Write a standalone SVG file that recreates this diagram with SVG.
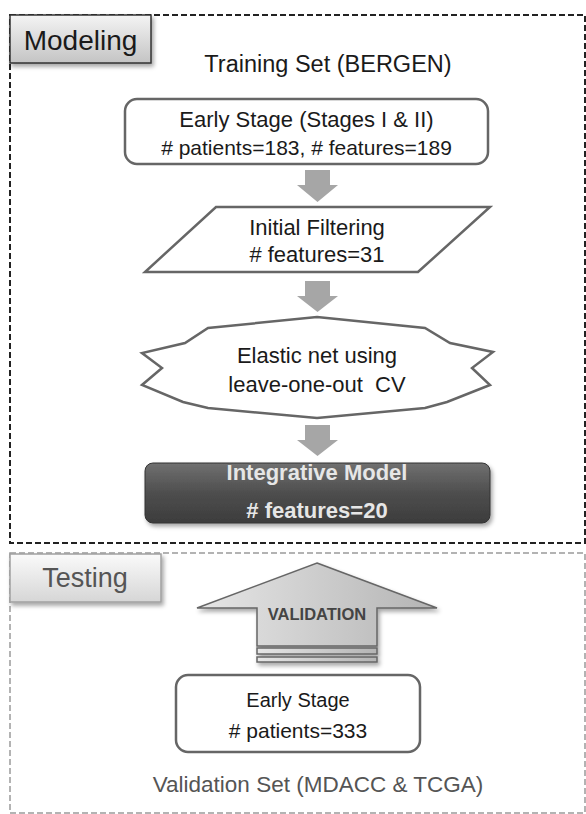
<svg xmlns="http://www.w3.org/2000/svg" width="586" height="814" viewBox="0 0 586 814">
<defs>
<style>
.t{font-family:"Liberation Sans",Arial,sans-serif;fill:#1a1a1a;text-anchor:middle}
.g{fill:#555}
.node{fill:#fff;stroke:#666;stroke-width:2.5}
.arr{fill:#a6a6a6}
</style>
<linearGradient id="lab1" x1="0" y1="0" x2="0" y2="1"><stop offset="0" stop-color="#f4f4f4"/><stop offset="1" stop-color="#c4c4c4"/></linearGradient>
<linearGradient id="lab2" x1="0" y1="0" x2="0" y2="1"><stop offset="0" stop-color="#fafafa"/><stop offset="1" stop-color="#d6d6d6"/></linearGradient>
<linearGradient id="dark" x1="0" y1="0" x2="0" y2="1"><stop offset="0" stop-color="#707070"/><stop offset="0.5" stop-color="#4e4e4e"/><stop offset="1" stop-color="#3c3c3c"/></linearGradient>
<linearGradient id="va" x1="0" y1="0" x2="1" y2="0"><stop offset="0" stop-color="#e6e6e6"/><stop offset="1" stop-color="#b4b4b4"/></linearGradient>
<filter id="sh" x="-10%" y="-10%" width="130%" height="140%"><feDropShadow dx="2" dy="3" stdDeviation="2" flood-color="#000" flood-opacity="0.35"/></filter>
</defs>
<rect width="586" height="814" fill="#fff"/>

<g id="modeling-frame">
<rect x="10" y="15" width="575" height="528" fill="none" stroke="#222" stroke-width="2" stroke-dasharray="6 3"/>
</g>
<g id="testing-frame">
<rect x="10" y="553" width="575" height="260" fill="none" stroke="#9a9a9a" stroke-width="1.5" stroke-dasharray="6 3"/>
</g>

<g id="modeling-label">
<rect x="10" y="15" width="141" height="48" fill="url(#lab1)" stroke="#333" stroke-width="1.5" filter="url(#sh)"/>
<text class="t" x="80.5" y="50" font-size="28">Modeling</text>
</g>
<g id="testing-label">
<rect x="10" y="554" width="151" height="48" fill="url(#lab2)" stroke="#a0a0a0" stroke-width="1.5" filter="url(#sh)"/>
<text class="t g" x="85" y="587" font-size="27">Testing</text>
</g>

<g id="training-title">
<text class="t" x="328" y="72" font-size="23.5">Training Set (BERGEN)</text>
</g>

<g id="connectors">
<polygon class="arr" points="305,170 330,170 330,185 338,185 317.5,202 297,185 305,185"/>
<polygon class="arr" points="305,281 330,281 330,296 338,296 317.5,312 297,296 305,296"/>
<polygon class="arr" points="305,425 330,425 330,440 338,440 317.5,456 297,440 305,440"/>
</g>

<g id="early-stage-train">
<rect class="node" x="125" y="99" width="363" height="65" rx="12"/>
<text class="t" x="306.5" y="127" font-size="22">Early Stage (Stages I &amp; II)</text>
<text class="t" x="306.5" y="155" font-size="21"># patients=183, # features=189</text>
</g>

<g id="initial-filtering">
<polygon class="node" points="216,207 490,207 418,272 145,272"/>
<text class="t" x="317" y="235" font-size="22">Initial Filtering</text>
<text class="t" x="317" y="262" font-size="22"># features=31</text>
</g>

<g id="elastic-net">
<polygon class="node" points="317,317 425,328 450,343 493,352 472,368 490,385 447,402 425,408 317,418 208,408 183,402 142,385 162,368 142,353 185,343 208,328"/>
<text class="t" x="317" y="363" font-size="22">Elastic net using</text>
<text class="t" x="317" y="392" font-size="22" style="white-space:pre">leave-one-out  CV</text>
</g>

<g id="integrative-model">
<rect x="145" y="463" width="345" height="60" rx="8" fill="url(#dark)" stroke="#333" stroke-width="1" filter="url(#sh)"/>
<text class="t" x="317" y="480" font-size="22" font-weight="bold" style="fill:#e6e6e6">Integrative Model</text>
<text class="t" x="317" y="518" font-size="22" font-weight="bold" style="fill:#e6e6e6"># features=20</text>
</g>

<g id="validation-arrow">
<g filter="url(#sh)">
<polygon points="317,563 437,608 377,608 377,646 257,646 257,608 197,608" fill="url(#va)" stroke="#666" stroke-width="1.5"/>
<rect x="257" y="648" width="120" height="6" fill="url(#va)" stroke="#666" stroke-width="1.5"/>
<rect x="257" y="657" width="120" height="5" fill="url(#va)" stroke="#666" stroke-width="1.5"/>
</g>
<text class="t" x="317" y="620" font-size="16.5" font-weight="bold" style="fill:#444">VALIDATION</text>
</g>

<g id="early-stage-validation">
<rect class="node" x="176" y="675" width="244" height="77" rx="12"/>
<text class="t" x="298" y="707" font-size="20">Early Stage</text>
<text class="t" x="298" y="738" font-size="21"># patients=333</text>
</g>

<g id="validation-title">
<text class="t g" x="318" y="792" font-size="22.5">Validation Set (MDACC &amp; TCGA)</text>
</g>
</svg>
